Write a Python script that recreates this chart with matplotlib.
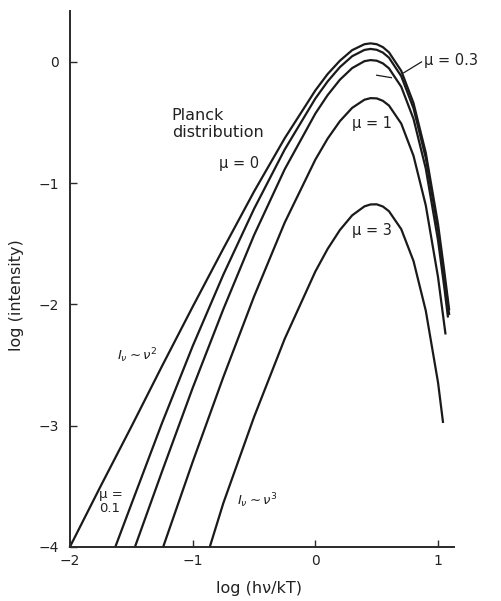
import matplotlib
matplotlib.use("Agg")
import matplotlib.pyplot as plt

# log(hv/kT) readings and log(intensity) readings for each curve
x_mu0 = [-2.0, -1.75, -1.5, -1.25, -1.0, -0.75, -0.5, -0.25, 0.0, 0.1, 0.2, 0.3, 0.4, 0.45, 0.5, 0.55, 0.6, 0.7, 0.8, 0.9, 1.0, 1.05, 1.09]
y_mu0 = [-4.00, -3.50, -3.01, -2.51, -2.02, -1.54, -1.07, -0.63, -0.235, -0.10, 0.01, 0.097, 0.146, 0.153, 0.146, 0.122, 0.079, -0.074, -0.34, -0.75, -1.34, -1.72, -2.04]

x_mu01 = [-1.63, -1.5, -1.25, -1.0, -0.75, -0.5, -0.25, 0.0, 0.1, 0.2, 0.3, 0.4, 0.45, 0.5, 0.55, 0.6, 0.7, 0.8, 0.9, 1.0, 1.05, 1.09]
y_mu01 = [-4.00, -3.65, -2.98, -2.345, -1.755, -1.213, -0.723, -0.302, -0.161, -0.043, 0.047, 0.099, 0.107, 0.100, 0.077, 0.035, -0.118, -0.383, -0.793, -1.386, -1.766, -2.08]

x_mu03 = [-1.47, -1.25, -1.0, -0.75, -0.5, -0.25, 0.0, 0.1, 0.2, 0.3, 0.4, 0.45, 0.5, 0.55, 0.6, 0.7, 0.8, 0.9, 1.0, 1.05, 1.08]
y_mu03 = [-4.00, -3.38, -2.69, -2.04, -1.43, -0.886, -0.426, -0.274, -0.147, -0.051, 0.006, 0.015, 0.010, -0.012, -0.053, -0.205, -0.470, -0.880, -1.473, -1.853, -2.10]

x_mu1 = [-1.24, -1.0, -0.75, -0.5, -0.25, 0.0, 0.1, 0.2, 0.3, 0.4, 0.45, 0.5, 0.55, 0.6, 0.7, 0.8, 0.9, 1.0, 1.06]
y_mu1 = [-4.00, -3.30, -2.60, -1.936, -1.326, -0.806, -0.633, -0.489, -0.379, -0.312, -0.299, -0.301, -0.321, -0.360, -0.509, -0.775, -1.184, -1.777, -2.24]

x_mu3 = [-0.86, -0.75, -0.5, -0.25, 0.0, 0.1, 0.2, 0.3, 0.4, 0.45, 0.5, 0.55, 0.6, 0.7, 0.8, 0.9, 1.0, 1.04]
y_mu3 = [-4.00, -3.64, -2.93, -2.285, -1.729, -1.543, -1.387, -1.266, -1.192, -1.176, -1.175, -1.193, -1.232, -1.380, -1.643, -2.053, -2.646, -2.97]

x_ticks = [-2, -1, 0, 1]
y_ticks = [0, -1, -2, -3, -4]

W, H = 502, 601
fig = plt.figure(figsize=(W / 100, H / 100), dpi=100)
fig.patch.set_facecolor("white")

x0, x1 = -2.0, 1.13
y0, y1 = -4.0, 0.42
ax_left = 70 / W
ax_width = (454 - 70) / W
ax_bottom = 1 - 546.7 / H
ax_height = (546.7 - 11) / H
ax = fig.add_axes([ax_left, ax_bottom, ax_width, ax_height])
ax.set_xlim(x0, x1)
ax.set_ylim(y0, y1)
ax.set_facecolor("none")

lc = "#1a1a1a"
for xs, ys in [(x_mu0, y_mu0), (x_mu01, y_mu01), (x_mu03, y_mu03), (x_mu1, y_mu1), (x_mu3, y_mu3)]:
    ax.plot(xs, ys, color=lc, lw=1.6, solid_joinstyle="round", clip_on=False)

for s in ["top", "right"]:
    ax.spines[s].set_visible(False)
for s in ["left", "bottom"]:
    ax.spines[s].set_linewidth(1.4)
    ax.spines[s].set_color("#2a2a2a")

ax.set_xticks(x_ticks)
ax.set_yticks(y_ticks)
ax.set_xticklabels(["\u22122", "\u22121", "0", "1"])
ax.set_yticklabels(["0", "\u22121", "\u22122", "\u22123", "\u22124"])
ax.tick_params(direction="in", length=5, width=1.0, colors="#2a2a2a", labelsize=10, labelcolor="#222222")
ax.tick_params(axis="x", pad=5)
ax.tick_params(axis="y", pad=8)

fs = 10.5
tc = "#222222"
fig.text(259 / W, 1 - 588 / H, "log (h\u03bd/kT)", ha="center", va="center", fontsize=11.5, color=tc)
fig.text(17 / W, 1 - 295 / H, "log (intensity)", ha="center", va="center", rotation=90, fontsize=11.5, color=tc)

ax.text(-1.17, -0.515, "Planck\ndistribution", ha="left", va="center", fontsize=11.5, color=tc, linespacing=1.15)
ax.text(-0.62, -0.84, "\u03bc = 0", ha="center", va="center", fontsize=fs, color=tc)
ax.text(0.46, -0.51, "\u03bc = 1", ha="center", va="center", fontsize=fs, color=tc)
ax.text(0.46, -1.39, "\u03bc = 3", ha="center", va="center", fontsize=fs, color=tc)
ax.text(0.885, 0.01, "\u03bc = 0.3", ha="left", va="center", fontsize=fs, color=tc)
ax.text(-1.45, -2.42, "$I_\\nu \\sim \\nu^2$", ha="center", va="center", fontsize=9.5, color=tc)
ax.text(-0.47, -3.62, "$I_\\nu \\sim \\nu^3$", ha="center", va="center", fontsize=9.5, color=tc)
ax.text(-1.76, -3.63, "\u03bc =\n0.1", ha="left", va="center", fontsize=9.5, color=tc, linespacing=1.1)

# leader lines
ax.plot([0.865, 0.72], [0.0, -0.09], color=lc, lw=0.9)
ax.plot([0.50, 0.62], [-0.11, -0.13], color=lc, lw=0.9)

fig.savefig("out.png", dpi=100, facecolor="white")
